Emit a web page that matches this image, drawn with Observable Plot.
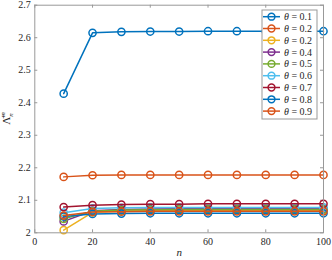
<!DOCTYPE html>
<html><head><meta charset="utf-8">
<script src="https://cdn.jsdelivr.net/npm/d3@7"></script>
<script src="https://cdn.jsdelivr.net/npm/@observablehq/plot@0.6"></script>
<style>body{margin:0;background:#fff}#chart{width:332px;height:260px}</style>
</head><body><div id="chart"></div>
<script>
const nValues = [10, 20, 30, 40, 50, 60, 70, 80, 90, 100];
const seriesLabels = ["0.1", "0.2", "0.2", "0.4", "0.5", "0.6", "0.7", "0.8", "0.9"];
const seriesColors = ["#0072BD", "#D95319", "#EDB120", "#7E2F8E", "#77AC30", "#4DBEEE", "#A2142F", "#0072BD", "#D95319"];
const theta01 = [2.428, 2.615, 2.618, 2.619, 2.619, 2.620, 2.620, 2.620, 2.620, 2.620];
const theta02 = [2.172, 2.177, 2.178, 2.178, 2.178, 2.178, 2.178, 2.178, 2.178, 2.178];
const theta03 = [2.008, 2.063, 2.067, 2.068, 2.069, 2.069, 2.069, 2.069, 2.069, 2.069];
const theta04 = [2.035, 2.068, 2.072, 2.073, 2.074, 2.074, 2.074, 2.074, 2.074, 2.074];
const theta05 = [2.043, 2.066, 2.070, 2.071, 2.072, 2.072, 2.072, 2.072, 2.072, 2.072];
const theta06 = [2.062, 2.075, 2.077, 2.078, 2.078, 2.078, 2.078, 2.078, 2.078, 2.078];
const theta07 = [2.079, 2.085, 2.087, 2.088, 2.088, 2.089, 2.089, 2.089, 2.089, 2.089];
const theta08 = [2.050, 2.058, 2.059, 2.060, 2.060, 2.060, 2.060, 2.060, 2.060, 2.060];
const theta09 = [2.053, 2.064, 2.065, 2.066, 2.066, 2.066, 2.066, 2.066, 2.066, 2.066];
const xTicks = [0, 20, 40, 60, 80, 100];
const yTicks = [2, 2.1, 2.2, 2.3, 2.4, 2.5, 2.6, 2.7];

const allSeries = [theta01, theta02, theta03, theta04, theta05, theta06, theta07, theta08, theta09];
const data = allSeries.flatMap((vals, i) => vals.map((v, j) => ({n: nValues[j], v, s: i})));

const W = 332, H = 260;
const mL = 34.3, mR = 9, mT = 4.7, mB = 27.7;
const fw = W - mL - mR, fh = H - mT - mB, tl = 3;
const axisColor = "#999";
const font = "'Liberation Serif', 'DejaVu Serif', serif";

const marks = [];
allSeries.forEach((vals, i) => {
  const d = data.filter(r => r.s === i);
  marks.push(Plot.line(d, {x: "n", y: "v", stroke: seriesColors[i], strokeWidth: 1.5}));
  marks.push(Plot.dot(d, {x: "n", y: "v", r: 3.6, stroke: seriesColors[i], strokeWidth: 1.5, fill: "none"}));
});

const chart = Plot.plot({
  width: W, height: H,
  marginLeft: mL, marginRight: mR, marginTop: mT, marginBottom: mB,
  style: {fontFamily: font, fontSize: "10px", color: "#262626", background: "#fff"},
  x: {domain: [0, 100]},
  y: {domain: [2, 2.7]},
  marks: [
    Plot.axisX(xTicks, {tickSize: 0, tickPadding: 5, label: null, fontSize: 10}),
    Plot.axisY(yTicks, {tickSize: 0, tickPadding: 4, label: null, fontSize: 10, tickFormat: d => String(+d.toFixed(1))}),
    Plot.tickX(xTicks, {x: d => d, stroke: axisColor, insetTop: fh - tl}),
    Plot.tickX(xTicks, {x: d => d, stroke: axisColor, insetBottom: fh - tl}),
    Plot.tickY(yTicks, {y: d => d, stroke: axisColor, insetRight: fw - tl}),
    Plot.tickY(yTicks, {y: d => d, stroke: axisColor, insetLeft: fw - tl}),
    ...marks,
    Plot.frame({stroke: axisColor, strokeWidth: 1}),
    Plot.text(["n"], {frameAnchor: "bottom", dy: 23, fontStyle: "italic", fontSize: 11, fill: "#262626"})
  ]
});
document.getElementById("chart").appendChild(chart);

const svg = d3.select(chart);
// y label: bar Lambda with sub n, sup m
const yl = svg.append("text")
  .attr("transform", `translate(10,${mT + fh / 2}) rotate(-90)`)
  .attr("text-anchor", "middle")
  .attr("font-family", font).attr("font-size", 11).attr("fill", "#262626");
yl.append("tspan").text("Λ\u0304");
yl.append("tspan").attr("font-size", 7).attr("font-style", "italic").attr("dy", 3).text("n");
yl.append("tspan").attr("font-size", 7).attr("font-style", "italic").attr("dx", -4).attr("dy", -8).text("m");

// legend
const lx = 262, ly = 10, lw = 55, lh = 109, rowH = 11.8, row0 = 16.7;
const lg = svg.append("g");
lg.append("rect").attr("x", lx).attr("y", ly).attr("width", lw).attr("height", lh)
  .attr("fill", "#fff").attr("stroke", axisColor);
seriesLabels.forEach((lab, i) => {
  const y = row0 + i * rowH;
  lg.append("line").attr("x1", lx + 1).attr("x2", lx + 18).attr("y1", y).attr("y2", y)
    .attr("stroke", seriesColors[i]).attr("stroke-width", 1.5);
  lg.append("circle").attr("cx", lx + 9.5).attr("cy", y).attr("r", 3.4)
    .attr("fill", "none").attr("stroke", seriesColors[i]).attr("stroke-width", 1.5);
  const t = lg.append("text").attr("x", lx + 22).attr("y", y).attr("dy", "0.35em")
    .attr("text-anchor", "start")
    .attr("font-family", font).attr("font-size", 10)
    .attr("fill", "#262626");
  t.append("tspan").attr("font-style", "italic").text("\u03B8");
  t.append("tspan").text("\u00A0=\u00A0" + lab);
});
</script>
</body></html>
